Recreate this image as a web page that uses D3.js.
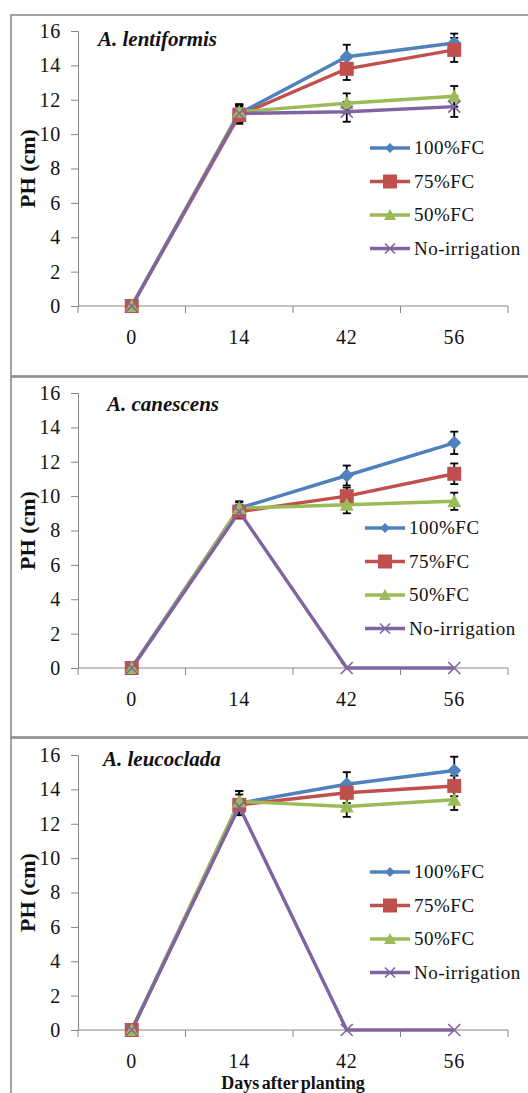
<!DOCTYPE html>
<html>
<head>
<meta charset="utf-8">
<script src="https://cdn.jsdelivr.net/npm/d3@7"></script>
<style>
  body { margin: 0; background: #fff; }
  svg { display: block; }
  .tick text { font-family: "Liberation Serif", "Times New Roman", serif; }
</style>
</head>
<body>
<div id="chart"></div>
<script>
// days after planting (categories on the x axis)
var days = ["0", "14", "42", "56"];
var seriesNames = ["100%FC", "75%FC", "50%FC", "No-irrigation"];
var species = ["A. lentiformis", "A. canescens", "A. leucoclada"];
var yTicks = [0, 2, 4, 6, 8, 10, 12, 14, 16];

// plant height (cm), one array per treatment, per species
var lentiformis = [
    [0, 11.2, 14.5, 15.3],
    [0, 11.1, 13.8, 14.9],
    [0, 11.3, 11.8, 12.2],
    [0, 11.2, 11.3, 11.6]
];
var lentiformisErr = [
    [0, 0.5, 0.7, 0.55],
    [0, 0.5, 0.65, 0.7],
    [0, 0.45, 0.57, 0.6],
    [0, 0.45, 0.58, 0.6]
];
var canescens = [
    [0, 9.3, 11.2, 13.1],
    [0, 9.1, 10.0, 11.3],
    [0, 9.3, 9.5, 9.7],
    [0, 9.1, 0, 0]
];
var canescensErr = [
    [0, 0.4, 0.58, 0.65],
    [0, 0.4, 0.5, 0.6],
    [0, 0.35, 0.5, 0.5],
    [0, 0, 0, 0]
];
var leucoclada = [
    [0, 13.2, 14.3, 15.1],
    [0, 13.1, 13.8, 14.2],
    [0, 13.3, 13.0, 13.4],
    [0, 13.0, 0, 0]
];
var leucocladaErr = [
    [0, 0.7, 0.7, 0.8],
    [0, 0.6, 0.6, 0.6],
    [0, 0.6, 0.6, 0.6],
    [0, 0, 0, 0]
];

var values = [lentiformis, canescens, leucoclada];
var errors = [lentiformisErr, canescensErr, leucocladaErr];

var colors = ["#4f81bd", "#c0504d", "#9bbb59", "#8064a2"];
var markers = ["diamond", "square", "triangle", "cross"];

var W = 528, H = 1093;
var panelTops = [15, 377, 738],
    panelBottoms = [376, 737, 1110],
    plotOffset = [16, 16, 17],
    plotH = 275,
    titlePos = [[98, 31], [107, 34], [103, 28]],
    legendPos = [[370, 133], [365, 151], [370, 134]],
    legendStep = 33.5;

var serif = '"Liberation Serif", "Times New Roman", serif';

var svg = d3.select("#chart").append("svg")
    .attr("width", W)
    .attr("height", H);

var x = d3.scaleBand()
    .domain(days)
    .range([78, 508])
    .padding(0);

function markerPath(type, r) {
    var p = d3.path();
    if (type === "diamond") {
        p.moveTo(0, -r); p.lineTo(r, 0); p.lineTo(0, r); p.lineTo(-r, 0); p.closePath();
    } else if (type === "square") {
        p.rect(-r, -r, 2 * r, 2 * r);
    } else if (type === "triangle") {
        p.moveTo(0, -r); p.lineTo(r, r - 1); p.lineTo(-r, r - 1); p.closePath();
    } else {
        r = r - 1;
        p.moveTo(-r, -r); p.lineTo(r, r); p.moveTo(r, -r); p.lineTo(-r, r);
    }
    return p.toString();
}

function drawMarker(g, type, color, cx, cy, r) {
    var m = g.append("path")
        .attr("d", markerPath(type, r || 7))
        .attr("transform", "translate(" + cx + "," + cy + ")");
    if (type === "cross") {
        m.attr("fill", "none").attr("stroke", color).attr("stroke-width", 1.6);
    } else {
        m.attr("fill", color);
    }
}

species.forEach(function(name, p) {
    var top = panelTops[p];
    var g = svg.append("g");

    // panel frame
    g.append("rect")
        .attr("x", 11)
        .attr("y", top)
        .attr("width", W + 20)
        .attr("height", panelBottoms[p] - top)
        .attr("fill", "none")
        .attr("stroke", "#8c8c8c")
        .attr("stroke-width", 1.6);

    var y0 = top + plotOffset[p];
    var y = d3.scaleLinear()
        .domain([0, 16])
        .range([y0 + plotH, y0]);

    // y axis
    var yAxis = d3.axisLeft(y)
        .tickValues(yTicks)
        .tickSize(7)
        .tickPadding(10);

    var ya = g.append("g")
        .attr("transform", "translate(78,0)")
        .call(yAxis);
    ya.select(".domain").attr("stroke", "#868686");
    ya.selectAll(".tick line").attr("stroke", "#868686");
    ya.selectAll(".tick text")
        .attr("fill", "#111")
        .style("font-size", "20px")
        .style("letter-spacing", "0.8px");

    // x axis: line, ticks at category boundaries, labels at centres
    var xa = g.append("g");
    xa.append("line")
        .attr("x1", x.range()[0]).attr("x2", x.range()[1])
        .attr("y1", y(0)).attr("y2", y(0))
        .attr("stroke", "#868686");
    var edges = days.map(function(d) { return x(d); }).concat([x.range()[1]]);
    xa.selectAll("line.edge")
        .data(edges)
        .enter().append("line")
        .attr("class", "edge")
        .attr("x1", function(d) { return d; })
        .attr("x2", function(d) { return d; })
        .attr("y1", y(0))
        .attr("y2", y(0) + 7)
        .attr("stroke", "#868686");
    xa.selectAll("text")
        .data(days)
        .enter().append("text")
        .attr("x", function(d) { return x(d) + x.bandwidth() / 2; })
        .attr("y", y(0) + 38)
        .attr("text-anchor", "middle")
        .attr("font-family", serif)
        .attr("font-size", "20px")
        .attr("letter-spacing", "0.8px")
        .attr("fill", "#111")
        .text(function(d) { return d; });

    // y title
    g.append("text")
        .attr("transform", "translate(35," + (y0 + plotH / 2) + ") rotate(-90)")
        .attr("text-anchor", "middle")
        .attr("font-family", serif)
        .attr("font-weight", "bold")
        .attr("font-size", "22px")
        .attr("fill", "#111")
        .text("PH (cm)");

    // species title
    g.append("text")
        .attr("x", titlePos[p][0])
        .attr("y", top + titlePos[p][1])
        .attr("font-family", serif)
        .attr("font-weight", "bold")
        .attr("font-style", "italic")
        .attr("font-size", "21px")
        .attr("fill", "#111")
        .text(name);

    var cx = function(i) { return x(days[i]) + x.bandwidth() / 2; };

    // error bars
    values[p].forEach(function(vals, s) {
        var eg = g.append("g").attr("stroke", "#000").attr("stroke-width", 1.8);
        vals.forEach(function(v, i) {
            var e = errors[p][s][i];
            if (!e) return;
            eg.append("line")
                .attr("x1", cx(i)).attr("x2", cx(i))
                .attr("y1", y(v - e)).attr("y2", y(v + e));
            [v - e, v + e].forEach(function(w) {
                eg.append("line")
                    .attr("x1", cx(i) - 4).attr("x2", cx(i) + 4)
                    .attr("y1", y(w)).attr("y2", y(w));
            });
        });
    });

    // lines and markers
    var line = d3.line()
        .x(function(d, i) { return cx(i); })
        .y(function(d) { return y(d); });

    values[p].forEach(function(vals, s) {
        g.append("path")
            .attr("d", line(vals))
            .attr("fill", "none")
            .attr("stroke", colors[s])
            .attr("stroke-width", 3.4)
            .attr("stroke-linejoin", "round");
    });
    values[p].forEach(function(vals, s) {
        vals.forEach(function(v, i) {
            drawMarker(g, markers[s], colors[s], cx(i), y(v));
        });
    });

    // legend
    var lx = legendPos[p][0], ly = top + legendPos[p][1];
    var legendR = [5, 7, 6, 6];
    seriesNames.forEach(function(sn, s) {
        var yy = ly + s * legendStep;
        g.append("line")
            .attr("x1", lx).attr("x2", lx + 40)
            .attr("y1", yy).attr("y2", yy)
            .attr("stroke", colors[s])
            .attr("stroke-width", 3.4);
        drawMarker(g, markers[s], colors[s], lx + 20, yy, legendR[s]);
        g.append("text")
            .attr("x", lx + 44)
            .attr("y", yy + 6)
            .attr("font-family", serif)
            .attr("font-size", "19px")
            .attr("letter-spacing", "0.5px")
            .attr("fill", "#111")
            .text(sn);
    });
});

// x title
svg.append("text")
    .attr("x", 293)
    .attr("y", 1089)
    .attr("text-anchor", "middle")
    .attr("font-family", serif)
    .attr("font-weight", "bold")
    .attr("font-size", "18px")
    .attr("word-spacing", "-2px")
    .attr("fill", "#111")
    .text("Days after planting");
</script>
</body>
</html>
